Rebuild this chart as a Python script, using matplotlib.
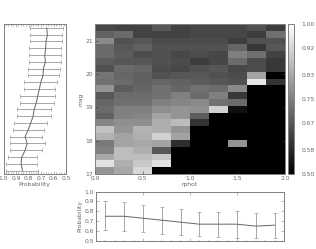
import numpy as np
import matplotlib
matplotlib.use("Agg")
import matplotlib.pyplot as plt

# probability per cell, top row (mag 21.5) first, columns rphot 0 -> 2
grid = [
    [.64, .63, .63, .67, .63, .64, .64, .64, .66, .62],
    [.69, .71, .63, .63, .63, .64, .64, .64, .62, .72],
    [.77, .66, .67, .65, .65, .65, .65, .62, .66, .66],
    [.71, .67, .69, .66, .66, .66, .66, .70, .61, .67],
    [.71, .68, .65, .66, .64, .65, .64, .75, .72, .63],
    [.68, .67, .67, .66, .65, .62, .64, .71, .65, .61],
    [.66, .71, .70, .65, .64, .66, .67, .64, .65, .61],
    [.73, .70, .69, .66, .67, .67, .66, .65, .82, .50],
    [.72, .71, .69, .70, .69, .68, .67, .66, .95, .60],
    [.79, .68, .70, .72, .70, .72, .71, .77, .50, .50],
    [.67, .71, .71, .72, .75, .71, .75, .61, .50, .50],
    [.70, .72, .72, .75, .76, .77, .72, .71, .50, .50],
    [.71, .75, .75, .78, .79, .78, .91, .53, .50, .50],
    [.69, .75, .76, .82, .79, .68, .50, .50, .50, .50],
    [.76, .78, .78, .84, .87, .60, .50, .50, .50, .50],
    [.88, .79, .85, .84, .79, .50, .50, .50, .50, .50],
    [.85, .82, .84, .91, .82, .50, .50, .50, .50, .50],
    [.74, .82, .83, .82, .59, .50, .50, .79, .50, .50],
    [.75, .87, .84, .67, .50, .50, .50, .50, .50, .50],
    [.83, .87, .87, .89, .50, .50, .50, .50, .50, .50],
    [.94, .84, .89, .94, .50, .50, .50, .50, .50, .50],
    [.79, .83, .92, .50, .50, .50, .50, .50, .50, .50],
]

# marginal in magnitude, bright end last
mag_prob = [.654, .649, .660, .662, .670, .665, .681, .684, .702, .713, .726,
            .737, .755, .763, .782, .803, .827, .811, .827, .854, .859, .848]
mag_high = [.785, .785, .785, .793, .798, .798, .803, .803, .835, .835, .867,
            .867, .894, .894, .920, .926, .952, .952, .952, .968, .979, .979]
mag_low = [.527, .532, .535, .537, .540, .543, .548, .559, .569, .585, .588,
           .596, .620, .622, .649, .676, .691, .665, .691, .734, .729, .721]

# marginal in rphot
rphot = [.1, .3, .5, .7, .9, 1.1, 1.3, 1.5, 1.7, 1.9]
rphot_prob = [.75, .75, .73, .71, .69, .67, .67, .67, .65, .66]
rphot_high = [.90, .89, .86, .84, .82, .79, .79, .80, .78, .78]
rphot_low = [.61, .60, .59, .57, .56, .55, .54, .53, .53, .53]

cbar_ticks = [.50, .58, .67, .75, .83, .92, 1.00]

W, H = 316, 249
FS = 4.3
LINE = "#666666"
EDGE = "#808080"
TXT = "#666666"


def panel(x0, y0, x1, y1):
    # pixel box to figure fraction
    ax = fig.add_axes([x0 / W, 1 - y1 / H, (x1 - x0) / W, (y1 - y0) / H])
    for s in ax.spines.values():
        s.set_linewidth(0.7)
        s.set_color(EDGE)
    ax.tick_params(labelsize=FS, length=2, width=0.4, color=EDGE,
                   labelcolor=TXT, pad=1.5, top=True, right=True, direction="in")
    return ax


def bars(ax, x, y, xerr=None, yerr=None):
    ax.errorbar(x, y, xerr=xerr, yerr=yerr, color=LINE, lw=0.7, ecolor="#999999",
                elinewidth=0.6, capsize=1.2, capthick=0.5)


fig = plt.figure(figsize=(W / 100, H / 100), dpi=100)

# heat map
ax = panel(95, 24, 285, 174)
vals = np.array(grid)
x_edges = np.linspace(0, 2, vals.shape[1] + 1)
y_edges = np.linspace(21.5, 17, vals.shape[0] + 1)
mesh = ax.pcolormesh(x_edges, y_edges, vals, cmap="gray", vmin=.5, vmax=1)
ax.set_xlim(0, 2)
ax.set_ylim(17, 21.5)
ax.set_xticks([0, .5, 1, 1.5, 2])
ax.set_xticklabels(["0.0", "0.5", "1.0", "1.5", "2.0"])
ax.set_yticks([17, 18, 19, 20, 21])
ax.tick_params(color="#333333")
ax.set_xlabel("rphot", fontsize=FS, color=TXT, labelpad=0.5)
ax.set_ylabel("mag", fontsize=FS, color=TXT, labelpad=1.5)

# colour bar
cax = panel(288, 24, 294, 174)
cb = fig.colorbar(mesh, cax=cax)
cb.set_ticks(cbar_ticks)
cb.set_ticklabels(["%.2f" % t for t in cbar_ticks])
cb.outline.set_linewidth(0.7)
cb.outline.set_edgecolor(EDGE)
cax.tick_params(labelsize=FS, length=0, labelcolor=TXT, pad=5.5, left=False)

# left marginal
axl = panel(3.5, 24.5, 66, 174)
mag_y = y_edges[:-1] + (y_edges[1] - y_edges[0]) / 2
mag_p = np.array(mag_prob)
bars(axl, mag_p, mag_y,
     xerr=[mag_p - np.array(mag_low), np.array(mag_high) - mag_p])
axl.set_xlim(1.0, 0.5)
axl.set_ylim(17, 21.5)
axl.set_xticks([1.0, .9, .8, .7, .6, .5])
axl.set_xticks(np.arange(.5, 1.0, .02), minor=True)
axl.set_yticks([])
axl.tick_params(axis="x", which="minor", length=1.5, width=0.4, color=EDGE,
                top=True, direction="in")
axl.set_xlabel("Probability", fontsize=FS, color=TXT, labelpad=0.5)

# bottom marginal
axb = panel(96, 191.5, 284, 241)
r_p = np.array(rphot_prob)
bars(axb, rphot, r_p,
     yerr=[r_p - np.array(rphot_low), np.array(rphot_high) - r_p])
axb.set_xlim(0, 2)
axb.set_ylim(.5, 1.0)
axb.set_xticks([0, .5, 1, 1.5, 2])
axb.set_xticks(np.arange(0, 2.01, .1), minor=True)
axb.set_xticklabels([])
axb.set_yticks([.5, .6, .7, .8, .9, 1.0])
axb.tick_params(axis="x", which="minor", length=1, width=0.3, color=EDGE,
                top=True, direction="in")
axb.set_ylabel("Probability", fontsize=FS, color=TXT, labelpad=1.5)

plt.savefig("out.png", dpi=100)
